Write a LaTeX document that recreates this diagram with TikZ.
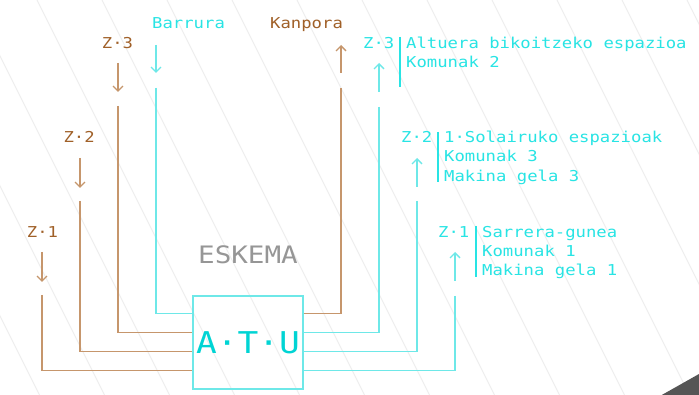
\documentclass[tikz,border=0pt]{standalone}
\usepackage{fontspec}
\usetikzlibrary{arrows.meta}
\newfontfamily\monof[FakeStretch=1.15]{DejaVu Sans Mono}
\definecolor{cyT}{RGB}{40,228,228}
\definecolor{cyL}{RGB}{110,232,232}
\definecolor{cyD}{RGB}{0,212,212}
\definecolor{brT}{RGB}{160,96,40}
\definecolor{brL}{RGB}{198,150,108}
\definecolor{grT}{RGB}{150,150,150}
\definecolor{bgL}{RGB}{238,238,238}
\definecolor{wedge}{RGB}{85,85,85}
\tikzset{
  lbl/.style={font=\monof\fontsize{15}{19}\selectfont, inner sep=0pt, anchor=base west},
  cyline/.style={draw=cyL, line width=1.3pt},
  brline/.style={draw=brL, line width=1.3pt},
  arr/.style={-{Straight Barb[length=5pt,width=10pt]}},
  bgline/.style={draw=bgL, line width=1pt},
}
\begin{document}
\begin{tikzpicture}[x=1pt,y=-1pt]
\useasboundingbox (0,0) rectangle (699,395);
\fill[white] (0,0) rectangle (699,395);
\begin{scope}
\clip (0,0) rectangle (699,395);
\foreach \k in {-4,...,11} \draw[bgline] (37+65*\k,0) -- ++(197.5,395);
\fill[wedge] (660,396) -- (699,374) -- (699,396) -- cycle;
\end{scope}

% central box
\node[draw=cyL, line width=1.3pt, minimum width=110pt, minimum height=93pt, inner sep=0pt] (ATU) at (248,342.5) {};
\node[font=\monof\fontsize{30}{34}\selectfont, text=cyD, inner sep=0pt, anchor=base] (atut) at (248,354) {A·T·U};
\node[font=\monof\fontsize{24}{28}\selectfont, text=grT, inner sep=0pt, anchor=base] (esk) at (248,263.7) {ESKEMA};

% connection points on the box
\coordinate (w1) at ([yshift=-18pt]ATU.north west);
\coordinate (w2) at ([yshift=-37pt]ATU.north west);
\coordinate (w3) at ([yshift=-56pt]ATU.north west);
\coordinate (w4) at ([yshift=-75pt]ATU.north west);
\coordinate (e1) at ([yshift=-18pt]ATU.north east);
\coordinate (e2) at ([yshift=-37pt]ATU.north east);
\coordinate (e3) at ([yshift=-56pt]ATU.north east);
\coordinate (e4) at ([yshift=-75pt]ATU.north east);

% top labels
\node[lbl, text=cyT] (barrura) at (152,28.5) {Barrura};
\node[lbl, text=brT] (kanpora) at (270,28.5) {Kanpora};

% left labels
\node[lbl, text=brT] (lz3) at (101.7,48.5) {Z·3};
\node[lbl, text=brT] (lz2) at (63.3,142.5) {Z·2};
\node[lbl, text=brT] (lz1) at (26.7,237.5) {Z·1};

% right labels
\node[lbl, text=cyT] (rz3) at (363,48.5) {Z·3};
\node[lbl, text=cyT] (rz3a) at (406,48.5) {Altuera bikoitzeko espazioa};
\node[lbl, text=cyT] (rz3b) at (406,67.5) {Komunak 2};
\node[lbl, text=cyT] (rz2) at (401,142.5) {Z·2};
\node[lbl, text=cyT] (rz2a) at (444,142.5) {1·Solairuko espazioak};
\node[lbl, text=cyT] (rz2b) at (444,162) {Komunak 3};
\node[lbl, text=cyT] (rz2c) at (444,181.5) {Makina gela 3};
\node[lbl, text=cyT] (rz1) at (438,237.5) {Z·1};
\node[lbl, text=cyT] (rz1a) at (482,237.5) {Sarrera-gunea};
\node[lbl, text=cyT] (rz1b) at (482,256.5) {Komunak 1};
\node[lbl, text=cyT] (rz1c) at (482,275.5) {Makina gela 1};

% vertical bars
\draw[draw=cyT, line width=2pt] (400,37) -- (400,87);
\draw[draw=cyT, line width=2pt] (438,132) -- (438,182);
\draw[draw=cyT, line width=2pt] (476,226) -- (476,277);

% arrow coordinates
\coordinate (bA1) at (156,45); \coordinate (bA2) at (156,73); \coordinate (bL) at (156,88);
\coordinate (kA1) at (341,73); \coordinate (kA2) at (341,45); \coordinate (kL) at (341,88);
\coordinate (l3A1) at (118,63); \coordinate (l3A2) at (118,92); \coordinate (l3L) at (118,106);
\coordinate (l2A1) at (80,158); \coordinate (l2A2) at (80,188); \coordinate (l2L) at (80,201);
\coordinate (l1A1) at (42,252); \coordinate (l1A2) at (42,282); \coordinate (l1L) at (42,295);
\coordinate (r3A1) at (379,92); \coordinate (r3A2) at (379,63); \coordinate (r3L) at (379,107);
\coordinate (r2A1) at (417,187); \coordinate (r2A2) at (417,158); \coordinate (r2L) at (417,201);
\coordinate (r1A1) at (455,281); \coordinate (r1A2) at (455,252); \coordinate (r1L) at (455,296);

% arrows
\draw[cyline, arr] (bA1) -- (bA2);
\draw[brline, arr] (kA1) -- (kA2);
\draw[brline, arr] (l3A1) -- (l3A2);
\draw[brline, arr] (l2A1) -- (l2A2);
\draw[brline, arr] (l1A1) -- (l1A2);
\draw[cyline, arr] (r3A1) -- (r3A2);
\draw[cyline, arr] (r2A1) -- (r2A2);
\draw[cyline, arr] (r1A1) -- (r1A2);

% connectors
\draw[cyline] (bL) |- (w1);
\draw[brline] (kL) |- (e1);
\draw[brline] (l3L) |- (w2);
\draw[brline] (l2L) |- (w3);
\draw[brline] (l1L) |- (w4);
\draw[cyline] (r3L) |- (e2);
\draw[cyline] (r2L) |- (e3);
\draw[cyline] (r1L) |- (e4);
\end{tikzpicture}
\end{document}
